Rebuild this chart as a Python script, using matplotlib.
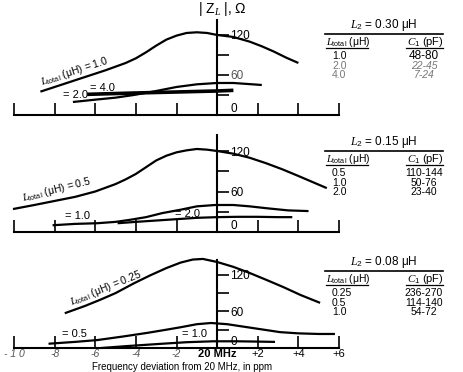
import matplotlib
matplotlib.use("Agg")
import matplotlib.pyplot as plt

plt.rcParams['font.family'] = ['Liberation Sans', 'DejaVu Sans']
plt.rcParams['mathtext.fontset'] = 'custom'
plt.rcParams['mathtext.rm'] = 'Liberation Sans'
plt.rcParams['mathtext.it'] = 'Liberation Serif:italic'
plt.rcParams['mathtext.bf'] = 'Liberation Sans:bold'

W, H = 464, 372

# frequency deviation (ppm) and |Z_L| (ohm)
# panel 1: L2 = 0.30 uH
top_x_10 = [-8.7, -7.5, -6.5, -5.5, -4.5, -4.0, -3.5, -3.0, -2.5, -2.0, -1.5, -1.0, -0.5, 0.0, 0.8, 1.6, 2.2, 2.8, 3.4, 4.0]
top_y_10 = [35, 47, 57, 67, 78, 85, 94, 104, 113, 119, 123, 124, 123, 120, 117, 110, 103, 95, 86, 78]
top_x_20 = [-7.1, -6.0, -5.0, -4.1, -3.0, -2.0, -1.0, 0.0, 0.8, 1.5, 2.2]
top_y_20 = [19.5, 23, 26, 30, 36, 42, 46, 48, 48, 46.5, 45]
top_x_40 = [-6.4, -4.0, -2.0, 0.0, 0.8]
top_y_40 = [31, 33, 34.5, 36, 37]

# panel 2: L2 = 0.15 uH
mid_x_05 = [-10.05, -9.0, -8.0, -7.0, -6.0, -5.0, -4.5, -4.0, -3.5, -3.0, -2.5, -2.0, -1.5, -1.0, -0.5, 0.0, 0.8, 1.6, 2.4, 3.2, 4.0, 4.7, 5.4]
mid_y_05 = [34, 40, 46, 52, 60, 71, 78, 86, 96, 106, 113, 118, 121, 123, 122, 120, 116, 110, 102, 93, 83, 74, 65]
mid_x_10 = [-8.1, -7.0, -5.9, -5.0, -4.3, -3.5, -2.7, -1.8, -1.0, -0.1, 0.8, 1.6, 2.5, 3.5, 4.5]
mid_y_10 = [10, 12, 13, 15, 18, 22, 28, 33, 38, 40, 40, 38, 35, 32, 31]
mid_x_20 = [-4.9, -4.0, -3.0, -2.0, -1.0, 0.0, 1.0, 2.0, 3.0, 3.7]
mid_y_20 = [13, 15, 17, 19, 21, 22, 22.5, 22.5, 22, 22]

# panel 3: L2 = 0.08 uH
bot_x_025 = [-7.5, -6.5, -5.76, -5.0, -4.1, -3.3, -2.5, -1.8, -1.2, -0.7, 0.0, 0.8, 1.6, 2.4, 3.25, 4.1, 5.07]
bot_y_025 = [57, 69, 79, 90, 106, 119, 131, 140, 145, 146, 141, 133, 123, 112, 100, 87, 74]
bot_x_05 = [-8.3, -7.0, -5.9, -4.6, -3.4, -2.5, -1.8, -1.0, -0.3, 0.5, 1.5, 2.3, 3.1, 4.0, 5.0, 5.8]
bot_y_05 = [7, 10, 13, 19, 25, 30, 34, 39, 41, 39, 34, 30, 26, 24, 23, 23]
bot_x_10 = [-5.7, -4.5, -2.7, -1.5, -0.2, 1.0, 2.0, 2.85]
bot_y_10 = [0, 3, 7, 9.5, 11, 11, 10.5, 10]

x_ticks = [-10, -8, -6, -4, -2, 0, 2, 4, 6]
x_labels = ['- 1 0', '-8', '-6', '-4', '-2', '20 MHz', '+2', '+4', '+6']
y_ticks = [0, 30, 60, 90, 120]
y_labels = ['0', '', '60', '', '120']

tables = [
    ('0.30', ['1.0', '2.0', '4.0'], ['48-80', '22-45', '7-24']),
    ('0.15', ['0.5', '1.0', '2.0'], ['110-144', '50-76', '23-40']),
    ('0.08', ['0.25', '0.5', '1.0'], ['236-270', '114-140', '54-72']),
]

fig = plt.figure(figsize=(W / 100, H / 100), dpi=100)

x_left_px, x_right_px = 14, 339
px_per_unit = (x_right_px - x_left_px) / 16.0
xlim = (-10 - x_left_px / px_per_unit, -10 + (W - x_left_px) / px_per_unit)

# (baseline pixel row, pixels per ohm, top of |Z| axis)
panels = [(115, 0.667, 142), (232, 0.675, 144), (348, 0.61, 144)]
curves = [
    [(top_x_10, top_y_10, 1.6), (top_x_20, top_y_20, 1.6), (top_x_40, top_y_40, 2.6)],
    [(mid_x_05, mid_y_05, 1.6), (mid_x_10, mid_y_10, 1.6), (mid_x_20, mid_y_20, 1.6)],
    [(bot_x_025, bot_y_025, 1.6), (bot_x_05, bot_y_05, 1.6), (bot_x_10, bot_y_10, 1.6)],
]

span = 100
for i, (base, scale, ytop) in enumerate(panels):
    ax = fig.add_axes([0, (H - base) / H, 1, span / H])
    ax.set_xlim(xlim)
    ax.set_ylim(0, span / scale)
    ax.patch.set_alpha(0)
    for xs, ys, lw in curves[i]:
        ax.plot(xs, ys, color='black', lw=lw, clip_on=False, solid_capstyle='butt')

    ax.spines['top'].set_visible(False)
    ax.spines['left'].set_visible(False)
    ax.spines['bottom'].set_bounds(-10, 6)
    ax.spines['bottom'].set_linewidth(1.5)
    ax.spines['right'].set_position(('data', 0))
    ax.spines['right'].set_bounds(0, ytop)
    ax.spines['right'].set_linewidth(1.5)

    ax.set_xticks(x_ticks)
    ax.tick_params(axis='x', direction='in', length=8.6, width=1.2, pad=1)
    if i == 2:
        ax.set_xticklabels(x_labels, fontsize=8)
        for lab in ax.get_xticklabels():
            if lab.get_text().startswith('-'):
                lab.set_color('#555555')
                lab.set_style('italic')
                lab.set_fontsize(7.5)
            elif lab.get_text() == '20 MHz':
                lab.set_fontweight('bold')
    else:
        ax.set_xticklabels([])

    ax.yaxis.set_ticks_position('right')
    ax.set_yticks(y_ticks)
    ax.set_yticklabels(y_labels, fontsize=8.5)
    ax.tick_params(axis='y', direction='out', length=8.6, width=1.2, pad=1)
    ax.get_yticklabels()[0].set_va('bottom')
    if i == 0:
        ax.get_yticklabels()[2].set_color('#555555')


def ftext(x, y, s, **kw):
    fig.text(x / W, 1 - y / H, s, **kw)


ftext(222, 9, r'| Z$_{L}$ |, Ω', ha='center', va='center', fontsize=10)
ftext(92, 367.5, 'Frequency deviation from 20 MHz, in ppm', ha='left', va='center', fontsize=7)

# curve labels (px of left baseline, rotation)
ltot = r'$L_{\rm total}$ (μH) = '
ftext(42, 85, ltot + '1.0', rotation=18, rotation_mode='anchor', ha='left', va='baseline', fontsize=7.5)
ftext(90, 88, '= 4.0', ha='left', va='center', fontsize=8)
ftext(63, 95, '= 2.0', ha='left', va='center', fontsize=8)

ftext(23, 201, ltot + '0.5', rotation=14, rotation_mode='anchor', ha='left', va='baseline', fontsize=7.5)
ftext(65, 216, '= 1.0', ha='left', va='center', fontsize=8)
ftext(175, 214, '= 2.0', ha='left', va='center', fontsize=8)

ftext(72, 305, ltot + '0.25', rotation=22, rotation_mode='anchor', ha='left', va='baseline', fontsize=7.5)
ftext(62, 334, '= 0.5', ha='left', va='center', fontsize=8)
ftext(182, 334, '= 1.0', ha='left', va='center', fontsize=8)

# right-hand tables
table_tops = [25, 142, 262]
for (l2, ltots, c1s), ty in zip(tables, table_tops):
    ftext(384, ty, r'$L_2$ = ' + l2 + ' μH', ha='center', va='center', fontsize=8.5)
    fig.add_artist(plt.Line2D([325 / W, 443 / W], [1 - (ty + 9) / H] * 2, color='black', lw=1.2))
    hy = ty + 17
    ftext(326, hy, r'$L_{\rm total}$ (μH)', ha='left', va='center', fontsize=7.5)
    ftext(425, hy, r'$C_1$ (pF)', ha='center', va='center', fontsize=8)
    fig.add_artist(plt.Line2D([326 / W, 368 / W], [1 - (hy + 6) / H] * 2, color='black', lw=0.9))
    fig.add_artist(plt.Line2D([406 / W, 443 / W], [1 - (hy + 6) / H] * 2, color='black', lw=0.9))
    for k, (a, b) in enumerate(zip(ltots, c1s)):
        ry = hy + 14 + k * 9.7
        faded = (ty == 25 and k > 0)
        col = '#777777' if faded else 'black'
        ftext(332, ry, a, ha='left', va='center', fontsize=7.5, color=col)
        ftext(424, ry, b, ha='center', va='center', fontsize=8.5 if ty == 25 and k == 0 else 7.5,
              color=col, style='italic' if faded else 'normal')

fig.savefig('out.png', dpi=100)
